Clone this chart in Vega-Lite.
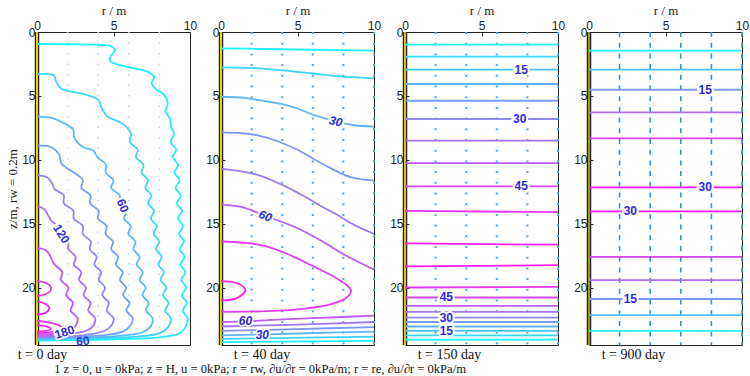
{
"$schema": "https://vega.github.io/schema/vega-lite/v6.json",
"padding": {"left": 6, "top": 3, "right": 0, "bottom": 0},
"bounds": "flush",
"spacing": 31,
"config": {
  "view": {"stroke": "#222", "strokeWidth": 1},
  "axis": {"grid": false, "domain": false, "labelFlush": false, "labelFont": "Liberation Sans", "labelFontSize": 12, "labelColor": "#222", "tickColor": "#222", "tickSize": -4, "labelPadding": 4, "titleFont": "Liberation Serif", "titleFontWeight": "normal", "titleFontSize": 13, "titleColor": "#222", "titlePadding": 2},
  "title": {"font": "Liberation Serif", "fontSize": 14, "fontWeight": "normal", "color": "#111"}
},
"title": {"text": "1  z = 0, u = 0kPa; z = H, u = 0kPa; r = rw, ∂u/∂r = 0kPa/m; r = re, ∂u/∂r = 0kPa/m", "orient": "bottom", "anchor": "start", "fontSize": 12.6, "dx": 48, "offset": 0},
"resolve": {"scale": {"color": "independent"}},
"hconcat": [
{
  "width": 153, "height": 313,
  "title": {"text": "t = 0 day", "orient": "bottom", "anchor": "start", "dx": 11, "offset": -6},
  "encoding": {
    "x": {"field": "r", "type": "quantitative", "scale": {"domain": [0, 10], "nice": false, "zero": false}, "axis": {"orient": "top", "values": [0, 5, 10], "title": "r / m"}},
    "y": {"field": "z", "type": "quantitative", "scale": {"domain": [0, 24.5], "reverse": true, "nice": false, "zero": false}, "axis": {"values": [0, 5, 10, 15, 20], "title": "z/m, rw = 0.2m", "labelPadding": 6}}
  },
  "layer": [
    {"data": {"values": [{"r":2,"z":0},{"r":2,"z":24.5},{"r":4,"z":0},{"r":4,"z":24.5},{"r":6,"z":0},{"r":6,"z":24.5},{"r":8,"z":0},{"r":8,"z":24.5}]},
     "mark": {"type": "line", "strokeDash": [1.5, 9], "color": "#bcd9ee", "strokeWidth": 1.5}, "encoding": {"detail": {"field": "r"}}},
    {"data": {"values": [{"r":0,"z":0},{"r":0,"z":24.5}]}, "mark": {"type": "line", "color": "#222", "strokeWidth": 4.5}, "encoding": {}},
    {"data": {"values": [{"r":0,"z":0},{"r":0,"z":24.5}]}, "mark": {"type": "line", "color": "#e2d800", "strokeWidth": 2}, "encoding": {}},
    {"data": {"values": [
{"l":20,"r":0,"z":0.94},{"l":20,"r":2,"z":0.96},{"l":20,"r":4,"z":1.0},{"l":20,"r":4.8,"z":1.1},{"l":20,"r":5.1,"z":1.45},{"l":20,"r":4.75,"z":2.0},{"l":20,"r":4.8,"z":2.3},{"l":20,"r":5.6,"z":2.65},{"l":20,"r":6.6,"z":2.9},{"l":20,"r":7.2,"z":3.1},{"l":20,"r":7.65,"z":3.5},{"l":20,"r":7.5,"z":4.0},{"l":20,"r":7.8,"z":4.5},{"l":20,"r":8.3,"z":4.9},{"l":20,"r":8.55,"z":5.6},{"l":20,"r":8.4,"z":6.2},{"l":20,"r":8.7,"z":6.8},{"l":20,"r":8.75,"z":7.4},
{"l":20,"r":8.95,"z":8.0},{"l":20,"r":8.72,"z":8.6},{"l":20,"r":9.1,"z":9.2},{"l":20,"r":8.88,"z":9.8},{"l":20,"r":9.23,"z":10.4},{"l":20,"r":8.98,"z":11.0},{"l":20,"r":9.32,"z":11.6},{"l":20,"r":9.06,"z":12.2},{"l":20,"r":9.4,"z":12.8},{"l":20,"r":9.14,"z":13.4},{"l":20,"r":9.48,"z":14.0},{"l":20,"r":9.21,"z":14.6},{"l":20,"r":9.55,"z":15.2},{"l":20,"r":9.29,"z":15.8},{"l":20,"r":9.61,"z":16.4},{"l":20,"r":9.33,"z":17.0},{"l":20,"r":9.65,"z":17.6},{"l":20,"r":9.38,"z":18.2},{"l":20,"r":9.7,"z":18.8},{"l":20,"r":9.43,"z":19.4},{"l":20,"r":9.75,"z":20.0},{"l":20,"r":9.47,"z":20.6},{"l":20,"r":9.8,"z":21.2},{"l":20,"r":9.52,"z":21.8},{"l":20,"r":9.85,"z":22.4},{"l":20,"r":9.7,"z":23.1},{"l":20,"r":9.3,"z":23.6},{"l":20,"r":8.0,"z":23.9},{"l":20,"r":5,"z":24.05},{"l":20,"r":2,"z":24.12},{"l":20,"r":0,"z":24.15},
{"l":40,"r":0,"z":3.3},{"l":40,"r":1.1,"z":3.4},{"l":40,"r":1.25,"z":3.9},{"l":40,"r":1.6,"z":4.45},{"l":40,"r":3.0,"z":4.85},{"l":40,"r":4.0,"z":5.3},{"l":40,"r":4.2,"z":5.9},{"l":40,"r":4.6,"z":6.6},{"l":40,"r":5.4,"z":7.05},{"l":40,"r":5.9,"z":7.5},
{"l":40,"r":6.15,"z":8.0},{"l":40,"r":6.06,"z":8.6},{"l":40,"r":6.58,"z":9.2},{"l":40,"r":6.47,"z":9.8},{"l":40,"r":6.96,"z":10.4},{"l":40,"r":6.82,"z":11.0},{"l":40,"r":7.26,"z":11.6},{"l":40,"r":7.08,"z":12.2},{"l":40,"r":7.47,"z":12.8},{"l":40,"r":7.26,"z":13.4},{"l":40,"r":7.65,"z":14.0},{"l":40,"r":7.44,"z":14.6},{"l":40,"r":7.83,"z":15.2},{"l":40,"r":7.62,"z":15.8},{"l":40,"r":8.0,"z":16.4},{"l":40,"r":7.78,"z":17.0},{"l":40,"r":8.15,"z":17.6},{"l":40,"r":7.93,"z":18.2},{"l":40,"r":8.3,"z":18.8},{"l":40,"r":8.08,"z":19.4},{"l":40,"r":8.45,"z":20.0},{"l":40,"r":8.23,"z":20.6},{"l":40,"r":8.6,"z":21.2},{"l":40,"r":8.38,"z":21.8},{"l":40,"r":8.75,"z":22.4},{"l":40,"r":8.6,"z":23.05},{"l":40,"r":8.1,"z":23.55},{"l":40,"r":6.5,"z":23.85},{"l":40,"r":3,"z":24.0},{"l":40,"r":0,"z":24.07},
{"l":60,"r":0,"z":6.6},{"l":60,"r":1.0,"z":6.75},{"l":60,"r":1.7,"z":7.1},{"l":60,"r":2.35,"z":7.6},{"l":60,"r":2.45,"z":8.3},{"l":60,"r":3.0,"z":9.0},{"l":60,"r":3.7,"z":9.3},
{"l":60,"r":3.95,"z":9.8},{"l":60,"r":4.52,"z":10.4},{"l":60,"r":4.49,"z":11.0},{"l":60,"r":4.99,"z":11.6},{"l":60,"r":4.85,"z":12.2},{"l":60,"r":5.41,"z":12.8},{"l":60,"r":5.36,"z":13.4},{"l":60,"r":5.85,"z":14.0},{"l":60,"r":5.69,"z":14.6},{"l":60,"r":6.13,"z":15.2},{"l":60,"r":5.97,"z":15.8},{"l":60,"r":6.44,"z":16.4},{"l":60,"r":6.3,"z":17.0},{"l":60,"r":6.71,"z":17.6},{"l":60,"r":6.51,"z":18.2},{"l":60,"r":6.92,"z":18.8},{"l":60,"r":6.71,"z":19.4},{"l":60,"r":7.1,"z":20.0},{"l":60,"r":6.89,"z":20.6},{"l":60,"r":7.29,"z":21.2},{"l":60,"r":7.12,"z":21.8},{"l":60,"r":7.55,"z":22.4},{"l":60,"r":7.45,"z":23.0},{"l":60,"r":6.9,"z":23.5},{"l":60,"r":5.2,"z":23.8},{"l":60,"r":2.5,"z":23.95},{"l":60,"r":0,"z":24.02},
{"l":80,"r":0,"z":8.9},{"l":80,"r":0.9,"z":9.0},{"l":80,"r":1.45,"z":9.6},{"l":80,"r":1.6,"z":10.3},{"l":80,"r":2.4,"z":11.0},
{"l":80,"r":3.0,"z":11.6},{"l":80,"r":2.9,"z":12.2},{"l":80,"r":3.5,"z":12.8},{"l":80,"r":3.47,"z":13.4},{"l":80,"r":4.03,"z":14.0},{"l":80,"r":3.99,"z":14.6},{"l":80,"r":4.55,"z":15.2},{"l":80,"r":4.48,"z":15.8},{"l":80,"r":4.97,"z":16.4},{"l":80,"r":4.85,"z":17.0},{"l":80,"r":5.3,"z":17.6},{"l":80,"r":5.15,"z":18.2},{"l":80,"r":5.6,"z":18.8},{"l":80,"r":5.42,"z":19.4},{"l":80,"r":5.83,"z":20.0},{"l":80,"r":5.63,"z":20.6},{"l":80,"r":6.04,"z":21.2},{"l":80,"r":5.84,"z":21.8},{"l":80,"r":6.25,"z":22.4},{"l":80,"r":6.1,"z":23.0},{"l":80,"r":5.6,"z":23.45},{"l":80,"r":4.2,"z":23.75},{"l":80,"r":2,"z":23.88},{"l":80,"r":0,"z":23.95},
{"l":100,"r":0,"z":11.2},{"l":100,"r":0.7,"z":11.4},{"l":100,"r":1.0,"z":11.9},{"l":100,"r":1.15,"z":12.3},
{"l":100,"r":1.75,"z":12.8},{"l":100,"r":1.75,"z":13.4},{"l":100,"r":2.38,"z":14.0},{"l":100,"r":2.4,"z":14.6},{"l":100,"r":3.0,"z":15.2},{"l":100,"r":2.99,"z":15.8},{"l":100,"r":3.52,"z":16.4},{"l":100,"r":3.45,"z":17.0},{"l":100,"r":3.9,"z":17.6},{"l":100,"r":3.75,"z":18.2},{"l":100,"r":4.2,"z":18.8},{"l":100,"r":4.03,"z":19.4},{"l":100,"r":4.45,"z":20.0},{"l":100,"r":4.27,"z":20.6},{"l":100,"r":4.7,"z":21.2},{"l":100,"r":4.55,"z":21.8},{"l":100,"r":5.0,"z":22.4},{"l":100,"r":4.85,"z":23.0},{"l":100,"r":4.4,"z":23.4},{"l":100,"r":3.2,"z":23.7},{"l":100,"r":1.5,"z":23.83},{"l":100,"r":0,"z":23.9},
{"l":120,"r":0,"z":13.6},{"l":120,"r":0.5,"z":13.9},{"l":120,"r":0.75,"z":14.4},{"l":120,"r":0.95,"z":14.8},
{"l":120,"r":1.35,"z":15.2},{"l":120,"r":1.41,"z":15.8},{"l":120,"r":2.03,"z":16.4},{"l":120,"r":2.05,"z":17.0},{"l":120,"r":2.53,"z":17.6},{"l":120,"r":2.41,"z":18.2},{"l":120,"r":2.89,"z":18.8},{"l":120,"r":2.75,"z":19.4},{"l":120,"r":3.2,"z":20.0},{"l":120,"r":3.05,"z":20.6},{"l":120,"r":3.5,"z":21.2},{"l":120,"r":3.35,"z":21.8},{"l":120,"r":3.8,"z":22.4},{"l":120,"r":3.7,"z":22.95},{"l":120,"r":3.3,"z":23.35},{"l":120,"r":2.3,"z":23.62},{"l":120,"r":1,"z":23.76},{"l":120,"r":0,"z":23.82},
{"l":140,"r":0,"z":16.9},{"l":140,"r":0.6,"z":17.1},{"l":140,"r":0.85,"z":17.5},{"l":140,"r":1.0,"z":17.9},
{"l":140,"r":1.15,"z":18.2},{"l":140,"r":1.65,"z":18.8},{"l":140,"r":1.55,"z":19.4},{"l":140,"r":2.05,"z":20.0},{"l":140,"r":1.9,"z":20.6},{"l":140,"r":2.35,"z":21.2},{"l":140,"r":2.2,"z":21.8},{"l":140,"r":2.65,"z":22.4},{"l":140,"r":2.55,"z":22.95},{"l":140,"r":2.25,"z":23.3},{"l":140,"r":1.5,"z":23.55},{"l":140,"r":0.6,"z":23.68},{"l":140,"r":0,"z":23.74},
{"l":160,"s":0,"r":0,"z":19.5},{"l":160,"s":0,"r":0.5,"z":19.6},{"l":160,"s":0,"r":0.9,"z":19.95},{"l":160,"s":0,"r":0.85,"z":20.3},{"l":160,"s":0,"r":0.5,"z":20.55},{"l":160,"s":0,"r":0,"z":20.65},
{"l":160,"s":1,"r":0,"z":22.6},{"l":160,"s":1,"r":0.8,"z":22.75},{"l":160,"s":1,"r":1.5,"z":23.0},{"l":160,"s":1,"r":1.7,"z":23.25},{"l":160,"s":1,"r":1.2,"z":23.45},{"l":160,"s":1,"r":0.5,"z":23.55},{"l":160,"s":1,"r":0,"z":23.6},
{"l":180,"s":0,"r":0,"z":21.1},{"l":180,"s":0,"r":0.5,"z":21.25},{"l":180,"s":0,"r":0.8,"z":21.6},{"l":180,"s":0,"r":0.6,"z":21.95},{"l":180,"s":0,"r":0,"z":22.1},
{"l":180,"s":1,"r":0,"z":22.95},{"l":180,"s":1,"r":0.6,"z":23.05},{"l":180,"s":1,"r":0.9,"z":23.25},{"l":180,"s":1,"r":0.6,"z":23.4},{"l":180,"s":1,"r":0,"z":23.45}
    ]},
     "mark": {"type": "line", "interpolate": "catmull-rom", "strokeWidth": 1.8, "clip": true},
     "encoding": {"color": {"field": "l", "type": "quantitative", "scale": {"domain": [20, 180], "range": ["#1ef0ff", "#ff1ef0"], "interpolate": "rgb"}, "legend": null}, "detail": {"field": "s"}, "order": {"value": null}}},
    {"data": {"values": [{"t":"60","r":5.6,"z":13.6}]}, "mark": {"type": "text", "angle": 68, "font": "Liberation Sans", "fontWeight": "bold", "fontSize": 12, "fill": "white", "stroke": "white", "strokeWidth": 4}, "encoding": {"text": {"field": "t"}}},
    {"data": {"values": [{"t":"60","r":5.6,"z":13.6}]}, "mark": {"type": "text", "angle": 68, "font": "Liberation Sans", "fontWeight": "bold", "fontSize": 12, "fill": "#2a2ae0"}, "encoding": {"text": {"field": "t"}}},
    {"data": {"values": [{"t":"120","r":1.6,"z":15.8}]}, "mark": {"type": "text", "angle": 58, "font": "Liberation Sans", "fontWeight": "bold", "fontSize": 12, "fill": "white", "stroke": "white", "strokeWidth": 4}, "encoding": {"text": {"field": "t"}}},
    {"data": {"values": [{"t":"120","r":1.6,"z":15.8}]}, "mark": {"type": "text", "angle": 58, "font": "Liberation Sans", "fontWeight": "bold", "fontSize": 12, "fill": "#2a2ae0"}, "encoding": {"text": {"field": "t"}}},
    {"data": {"values": [{"t":"180","r":1.8,"z":23.5}]}, "mark": {"type": "text", "angle": -18, "font": "Liberation Sans", "fontWeight": "bold", "fontSize": 12, "fill": "white", "stroke": "white", "strokeWidth": 3}, "encoding": {"text": {"field": "t"}}},
    {"data": {"values": [{"t":"180","r":1.8,"z":23.5}]}, "mark": {"type": "text", "angle": -18, "font": "Liberation Sans", "fontWeight": "bold", "fontSize": 12, "fill": "#2a2ae0"}, "encoding": {"text": {"field": "t"}}},
    {"data": {"values": [{"t":"60","r":3.0,"z":24.2}]}, "mark": {"type": "text", "angle": -5, "font": "Liberation Sans", "fontWeight": "bold", "fontSize": 12, "fill": "#2a2ae0"}, "encoding": {"text": {"field": "t"}}}
  ]
},
{
  "width": 153, "height": 313,
  "title": {"text": "t = 40 day", "orient": "bottom", "anchor": "start", "dx": 28, "offset": -6},
  "encoding": {
    "x": {"field": "r", "type": "quantitative", "scale": {"domain": [0, 10], "nice": false, "zero": false}, "axis": {"orient": "top", "values": [0, 5, 10], "title": "r / m"}},
    "y": {"field": "z", "type": "quantitative", "scale": {"domain": [0, 24.5], "reverse": true, "nice": false, "zero": false}, "axis": {"values": [0, 5, 10, 15, 20], "title": null, "labelPadding": 6}}
  },
  "layer": [
    {"data": {"values": [{"r":2,"z":0},{"r":2,"z":24.5},{"r":4,"z":0},{"r":4,"z":24.5},{"r":6,"z":0},{"r":6,"z":24.5},{"r":8,"z":0},{"r":8,"z":24.5},{"r":10,"z":0},{"r":10,"z":24.5}]},
     "mark": {"type": "line", "strokeDash": [2, 8.7], "color": "#4ea6e0", "strokeWidth": 2}, "encoding": {"detail": {"field": "r"}}},
    {"data": {"values": [{"r":0,"z":0},{"r":0,"z":24.5}]}, "mark": {"type": "line", "color": "#222", "strokeWidth": 4.5}, "encoding": {}},
    {"data": {"values": [{"r":0,"z":0},{"r":0,"z":24.5}]}, "mark": {"type": "line", "color": "#e2d800", "strokeWidth": 2}, "encoding": {}},
    {"data": {"values": [
{"l":10,"r":0,"z":1.28},{"l":10,"r":3,"z":1.33},{"l":10,"r":6,"z":1.39},{"l":10,"r":10,"z":1.46},
{"l":20,"r":0,"z":2.77},{"l":20,"r":2,"z":2.82},{"l":20,"r":4,"z":3.0},{"l":20,"r":6,"z":3.25},{"l":20,"r":8,"z":3.5},{"l":20,"r":10,"z":3.63},
{"l":30,"r":0,"z":5.07},{"l":30,"r":1.5,"z":5.15},{"l":30,"r":2.7,"z":5.38},{"l":30,"r":4.0,"z":5.65},{"l":30,"r":4.9,"z":5.95},{"l":30,"r":6.2,"z":6.55},{"l":30,"r":7.5,"z":7.0},{"l":30,"r":8.7,"z":7.3},{"l":30,"r":10,"z":7.4},
{"l":40,"r":0,"z":7.86},{"l":40,"r":1.3,"z":7.92},{"l":40,"r":2.4,"z":8.1},{"l":40,"r":3.7,"z":8.55},{"l":40,"r":4.9,"z":9.16},{"l":40,"r":6.0,"z":9.9},{"l":40,"r":7.06,"z":10.6},{"l":40,"r":8.0,"z":11.15},{"l":40,"r":8.6,"z":11.4},{"l":40,"r":10,"z":11.64},
{"l":50,"s":0,"r":0,"z":10.7},{"l":50,"s":0,"r":1.5,"z":10.95},{"l":50,"s":0,"r":2.7,"z":11.3},{"l":50,"s":0,"r":3.5,"z":11.7},{"l":50,"s":0,"r":4.25,"z":12.1},{"l":50,"s":0,"r":5.5,"z":12.9},{"l":50,"s":0,"r":6.5,"z":13.6},{"l":50,"s":0,"r":7.5,"z":14.25},{"l":50,"s":0,"r":8.7,"z":15.1},{"l":50,"s":0,"r":10,"z":15.8},
{"l":60,"s":0,"r":0,"z":13.5},{"l":60,"s":0,"r":1.5,"z":13.75},{"l":60,"s":0,"r":2.9,"z":14.4},{"l":60,"s":0,"r":4.9,"z":15.3},{"l":60,"s":0,"r":6.5,"z":16.3},{"l":60,"s":0,"r":8.0,"z":17.4},{"l":60,"s":0,"r":10,"z":18.6},
{"l":60,"s":1,"r":10,"z":22.2},{"l":60,"s":1,"r":7,"z":22.35},{"l":60,"s":1,"r":4,"z":22.5},{"l":60,"s":1,"r":1.6,"z":22.65},{"l":60,"s":1,"r":0,"z":22.7},
{"l":70,"r":0,"z":16.4},{"l":70,"r":1.5,"z":16.5},{"l":70,"r":2.7,"z":16.7},{"l":70,"r":4.2,"z":17.3},{"l":70,"r":5.8,"z":18.2},{"l":70,"r":7.3,"z":19.1},{"l":70,"r":8.2,"z":19.8},{"l":70,"r":8.5,"z":20.25},{"l":70,"r":8.2,"z":20.8},{"l":70,"r":7.2,"z":21.3},{"l":70,"r":5.5,"z":21.65},{"l":70,"r":3,"z":21.85},{"l":70,"r":0,"z":21.9},
{"l":80,"r":0,"z":19.5},{"l":80,"r":1.0,"z":19.65},{"l":80,"r":1.6,"z":20.2},{"l":80,"r":1.0,"z":20.85},{"l":80,"r":0,"z":21.0},
{"l":50,"s":1,"r":0,"z":23.05},{"l":50,"s":1,"r":5,"z":22.9},{"l":50,"s":1,"r":10,"z":22.7},
{"l":40,"s":1,"r":0,"z":23.4},{"l":40,"s":1,"r":5,"z":23.25},{"l":40,"s":1,"r":10,"z":23.1},
{"l":30,"s":1,"r":0,"z":23.75},{"l":30,"s":1,"r":5,"z":23.6},{"l":30,"s":1,"r":10,"z":23.45},
{"l":20,"s":1,"r":0,"z":24.02},{"l":20,"s":1,"r":10,"z":23.85},
{"l":10,"s":1,"r":0,"z":24.27},{"l":10,"s":1,"r":10,"z":24.18}
    ]},
     "mark": {"type": "line", "interpolate": "catmull-rom", "strokeWidth": 1.8, "clip": true},
     "encoding": {"color": {"field": "l", "type": "quantitative", "scale": {"domain": [10, 80], "range": ["#1ef0ff", "#ff1ef0"], "interpolate": "rgb"}, "legend": null}, "detail": {"field": "s"}, "order": {"value": null}}},
    {"data": {"values": [{"t":"30","r":7.5,"z":7.0}]}, "mark": {"type": "text", "angle": 14, "font": "Liberation Sans", "fontWeight": "bold", "fontStyle": "italic", "fontSize": 12, "fill": "white", "stroke": "white", "strokeWidth": 4}, "encoding": {"text": {"field": "t"}}},
    {"data": {"values": [{"t":"30","r":7.5,"z":7.0}]}, "mark": {"type": "text", "angle": 14, "font": "Liberation Sans", "fontWeight": "bold", "fontStyle": "italic", "fontSize": 12, "fill": "#2a2ae0"}, "encoding": {"text": {"field": "t"}}},
    {"data": {"values": [{"t":"60","r":2.9,"z":14.4}]}, "mark": {"type": "text", "angle": 22, "font": "Liberation Sans", "fontWeight": "bold", "fontStyle": "italic", "fontSize": 12, "fill": "white", "stroke": "white", "strokeWidth": 4}, "encoding": {"text": {"field": "t"}}},
    {"data": {"values": [{"t":"60","r":2.9,"z":14.4}]}, "mark": {"type": "text", "angle": 22, "font": "Liberation Sans", "fontWeight": "bold", "fontStyle": "italic", "fontSize": 12, "fill": "#2a2ae0"}, "encoding": {"text": {"field": "t"}}},
    {"data": {"values": [{"t":"60","r":1.6,"z":22.65},{"t":"30","r":2.7,"z":23.7}]}, "mark": {"type": "text", "font": "Liberation Sans", "fontWeight": "bold", "fontStyle": "italic", "fontSize": 12, "fill": "white", "stroke": "white", "strokeWidth": 3}, "encoding": {"text": {"field": "t"}}},
    {"data": {"values": [{"t":"60","r":1.6,"z":22.65},{"t":"30","r":2.7,"z":23.7}]}, "mark": {"type": "text", "font": "Liberation Sans", "fontWeight": "bold", "fontStyle": "italic", "fontSize": 12, "fill": "#2a2ae0"}, "encoding": {"text": {"field": "t"}}}
  ]
},
{
  "width": 153, "height": 313,
  "title": {"text": "t = 150 day", "orient": "bottom", "anchor": "start", "dx": 28, "offset": -6},
  "encoding": {
    "x": {"field": "r", "type": "quantitative", "scale": {"domain": [0, 10], "nice": false, "zero": false}, "axis": {"orient": "top", "values": [0, 5, 10], "title": "r / m"}},
    "y": {"field": "z", "type": "quantitative", "scale": {"domain": [0, 24.5], "reverse": true, "nice": false, "zero": false}, "axis": {"values": [0, 5, 10, 15, 20], "title": null, "labelPadding": 6}}
  },
  "layer": [
    {"data": {"values": [{"r":2,"z":0},{"r":2,"z":24.5},{"r":4,"z":0},{"r":4,"z":24.5},{"r":6,"z":0},{"r":6,"z":24.5},{"r":8,"z":0},{"r":8,"z":24.5},{"r":10,"z":0},{"r":10,"z":24.5}]},
     "mark": {"type": "line", "strokeDash": [2, 8.7], "color": "#4ea6e0", "strokeWidth": 2}, "encoding": {"detail": {"field": "r"}}},
    {"data": {"values": [{"r":0,"z":0},{"r":0,"z":24.5}]}, "mark": {"type": "line", "color": "#222", "strokeWidth": 4.5}, "encoding": {}},
    {"data": {"values": [{"r":0,"z":0},{"r":0,"z":24.5}]}, "mark": {"type": "line", "color": "#d8c800", "strokeWidth": 2}, "encoding": {}},
    {"data": {"values": [
{"l":5,"s":0,"r":0,"z":0.99},{"l":5,"s":0,"r":10,"z":0.99},
{"l":10,"s":0,"r":0,"z":1.93},{"l":10,"s":0,"r":10,"z":1.93},
{"l":15,"s":0,"r":0,"z":2.95},{"l":15,"s":0,"r":10,"z":2.95},
{"l":20,"s":0,"r":0,"z":4.07},{"l":20,"s":0,"r":10,"z":4.07},
{"l":25,"s":0,"r":0,"z":5.38},{"l":25,"s":0,"r":10,"z":5.38},
{"l":30,"s":0,"r":0,"z":6.81},{"l":30,"s":0,"r":10,"z":6.81},
{"l":35,"s":0,"r":0,"z":8.51},{"l":35,"s":0,"r":10,"z":8.51},
{"l":40,"s":0,"r":0,"z":10.26},{"l":40,"s":0,"r":10,"z":10.26},
{"l":45,"s":0,"r":0,"z":12.08},{"l":45,"s":0,"r":10,"z":12.08},
{"l":50,"s":0,"r":0,"z":14.0},{"l":50,"s":0,"r":10,"z":14.1},
{"l":55,"s":0,"r":0,"z":16.55},{"l":55,"s":0,"r":10,"z":16.65},
{"l":55,"s":1,"r":0,"z":18.35},{"l":55,"s":1,"r":10,"z":18.25},
{"l":50,"s":1,"r":0,"z":20.0},{"l":50,"s":1,"r":10,"z":19.95},
{"l":45,"s":1,"r":0,"z":20.78},{"l":45,"s":1,"r":10,"z":20.78},
{"l":40,"s":1,"r":0,"z":21.43},{"l":40,"s":1,"r":10,"z":21.43},
{"l":35,"s":1,"r":0,"z":21.9},{"l":35,"s":1,"r":10,"z":21.9},
{"l":30,"s":1,"r":0,"z":22.35},{"l":30,"s":1,"r":10,"z":22.35},
{"l":25,"s":1,"r":0,"z":22.7},{"l":25,"s":1,"r":10,"z":22.7},
{"l":20,"s":1,"r":0,"z":23.05},{"l":20,"s":1,"r":10,"z":23.05},
{"l":15,"s":1,"r":0,"z":23.4},{"l":15,"s":1,"r":10,"z":23.4},
{"l":10,"s":1,"r":0,"z":23.75},{"l":10,"s":1,"r":10,"z":23.75},
{"l":5,"s":1,"r":0,"z":24.08},{"l":5,"s":1,"r":10,"z":24.08}
    ]},
     "mark": {"type": "line", "strokeWidth": 1.8, "clip": true},
     "encoding": {"color": {"field": "l", "type": "quantitative", "scale": {"domain": [5, 55], "range": ["#1ef0ff", "#ff1ef0"], "interpolate": "rgb"}, "legend": null}, "detail": {"field": "s"}, "order": {"value": null}}},
    {"data": {"values": [{"t":"15","r":7.6,"z":2.95},{"t":"30","r":7.5,"z":6.81},{"t":"45","r":7.6,"z":12.08},{"t":"45","r":2.7,"z":20.78},{"t":"30","r":2.7,"z":22.35},{"t":"15","r":2.7,"z":23.4}]}, "mark": {"type": "text", "font": "Liberation Sans", "fontWeight": "bold", "fontSize": 12, "fill": "white", "stroke": "white", "strokeWidth": 4}, "encoding": {"text": {"field": "t"}}},
    {"data": {"values": [{"t":"15","r":7.6,"z":2.95},{"t":"30","r":7.5,"z":6.81},{"t":"45","r":7.6,"z":12.08},{"t":"45","r":2.7,"z":20.78},{"t":"30","r":2.7,"z":22.35},{"t":"15","r":2.7,"z":23.4}]}, "mark": {"type": "text", "font": "Liberation Sans", "fontWeight": "bold", "fontSize": 12, "fill": "#2a2ae0"}, "encoding": {"text": {"field": "t"}}}
  ]
},
{
  "width": 153, "height": 313,
  "title": {"text": "t = 900 day", "orient": "bottom", "anchor": "start", "dx": 28, "offset": -6},
  "encoding": {
    "x": {"field": "r", "type": "quantitative", "scale": {"domain": [0, 10], "nice": false, "zero": false}, "axis": {"orient": "top", "values": [0, 5, 10], "title": "r / m"}},
    "y": {"field": "z", "type": "quantitative", "scale": {"domain": [0, 24.5], "reverse": true, "nice": false, "zero": false}, "axis": {"values": [0, 5, 10, 15, 20], "title": null, "labelPadding": 6}}
  },
  "layer": [
    {"data": {"values": [{"r":2,"z":0},{"r":2,"z":24.5},{"r":4,"z":0},{"r":4,"z":24.5},{"r":6,"z":0},{"r":6,"z":24.5},{"r":8,"z":0},{"r":8,"z":24.5},{"r":10,"z":0},{"r":10,"z":24.5}]},
     "mark": {"type": "line", "strokeDash": [5, 5.7], "color": "#3a8fd2", "strokeWidth": 1.6}, "encoding": {"detail": {"field": "r"}}},
    {"data": {"values": [{"r":0,"z":0},{"r":0,"z":24.5}]}, "mark": {"type": "line", "color": "#222", "strokeWidth": 4.5}, "encoding": {}},
    {"data": {"values": [{"r":0,"z":0},{"r":0,"z":24.5}]}, "mark": {"type": "line", "color": "#9a9a20", "strokeWidth": 2}, "encoding": {}},
    {"data": {"values": [
{"l":5,"s":0,"r":0,"z":1.46},{"l":5,"s":0,"r":10,"z":1.46},
{"l":10,"s":0,"r":0,"z":2.95},{"l":10,"s":0,"r":10,"z":2.95},
{"l":15,"s":0,"r":0,"z":4.52},{"l":15,"s":0,"r":10,"z":4.52},
{"l":20,"s":0,"r":0,"z":6.29},{"l":20,"s":0,"r":10,"z":6.29},
{"l":25,"s":0,"r":0,"z":8.33},{"l":25,"s":0,"r":10,"z":8.33},
{"l":30,"s":0,"r":0,"z":12.16},{"l":30,"s":0,"r":10,"z":12.16},
{"l":30,"s":1,"r":0,"z":14.04},{"l":30,"s":1,"r":10,"z":14.04},
{"l":25,"s":1,"r":0,"z":17.6},{"l":25,"s":1,"r":10,"z":17.6},
{"l":20,"s":1,"r":0,"z":19.42},{"l":20,"s":1,"r":10,"z":19.42},
{"l":15,"s":1,"r":0,"z":20.9},{"l":15,"s":1,"r":10,"z":20.9},
{"l":10,"s":1,"r":0,"z":22.16},{"l":10,"s":1,"r":10,"z":22.16},
{"l":5,"s":1,"r":0,"z":23.39},{"l":5,"s":1,"r":10,"z":23.39}
    ]},
     "mark": {"type": "line", "strokeWidth": 1.8, "clip": true},
     "encoding": {"color": {"field": "l", "type": "quantitative", "scale": {"domain": [5, 29], "range": ["#1ef0ff", "#ff1ef0"], "interpolate": "rgb"}, "legend": null}, "detail": {"field": "s"}, "order": {"value": null}}},
    {"data": {"values": [{"t":"15","r":7.6,"z":4.52},{"t":"30","r":7.6,"z":12.16},{"t":"30","r":2.7,"z":14.04},{"t":"15","r":2.7,"z":20.9}]}, "mark": {"type": "text", "font": "Liberation Sans", "fontWeight": "bold", "fontSize": 12, "fill": "white", "stroke": "white", "strokeWidth": 4}, "encoding": {"text": {"field": "t"}}},
    {"data": {"values": [{"t":"15","r":7.6,"z":4.52},{"t":"30","r":7.6,"z":12.16},{"t":"30","r":2.7,"z":14.04},{"t":"15","r":2.7,"z":20.9}]}, "mark": {"type": "text", "font": "Liberation Sans", "fontWeight": "bold", "fontSize": 12, "fill": "#2a2ae0"}, "encoding": {"text": {"field": "t"}}}
  ]
}
]
}
